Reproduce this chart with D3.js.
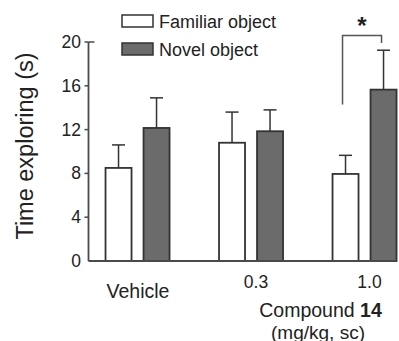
<!DOCTYPE html>
<html>
<head>
<meta charset="utf-8">
<script src="https://cdn.jsdelivr.net/npm/d3@7"></script>
<style>
  html, body { margin: 0; padding: 0; background: #fff; }
  svg { display: block; }
  text { font-family: "Liberation Sans", Arial, sans-serif; fill: #222; }
</style>
</head>
<body>
<svg id="chart" width="399" height="341"></svg>
<script>
// ---- data ----
const groups = ["Vehicle", "0.3", "1.0"];
const series = ["Familiar object", "Novel object"];
const familiarMean = [8.5, 10.8, 7.95];
const familiarErr  = [2.1, 2.8, 1.7];
const novelMean    = [12.15, 11.85, 15.65];
const novelErr     = [2.75, 1.95, 3.6];
const yTicks = [0, 4, 8, 12, 16, 20];
// significance bracket (values in y units) between the 1.0 bars
const sigGroup = "1.0";
const sigTop = 20.6, sigLeftEnd = 14.3, sigRightEnd = 19.9;

const rows = groups.map((g, i) => ({
  group: g,
  values: [
    { s: series[0], mean: familiarMean[i], err: familiarErr[i] },
    { s: series[1], mean: novelMean[i], err: novelErr[i] }
  ]
}));

// ---- layout ----
const svg = d3.select("#chart");
const axisX = 88.5;
const y = d3.scaleLinear().domain([0, 20]).range([261, 42]);

const step = 113.5;
const x0 = d3.scaleBand().domain(groups)
  .range([axisX, axisX + step * (3 - 0.436 + 2 * 0.15)])
  .paddingInner(0.436).paddingOuter(0.15);
const x1 = d3.scaleBand().domain(series)
  .range([0, x0.bandwidth()]).paddingInner(0.316).paddingOuter(0);

const color = d3.scaleOrdinal().domain(series).range(["#ffffff", "#6b6b6b"]);
const strokeCol = "#333";
const axisCol = "#4a4a4a";

// ---- bars ----
const g = svg.append("g");
const grp = g.selectAll("g.grp").data(rows).join("g")
  .attr("transform", d => `translate(${x0(d.group)},0)`);

// error bars (upward only)
grp.selectAll("g.err").data(d => d.values).join("g").each(function(d) {
  const cx = x1(d.s) + x1.bandwidth() / 2;
  const sel = d3.select(this);
  sel.append("line").attr("x1", cx).attr("x2", cx)
    .attr("y1", y(d.mean)).attr("y2", y(d.mean + d.err))
    .attr("stroke", strokeCol).attr("stroke-width", 1.5);
  sel.append("line").attr("x1", cx - 6.5).attr("x2", cx + 6.5)
    .attr("y1", y(d.mean + d.err)).attr("y2", y(d.mean + d.err))
    .attr("stroke", strokeCol).attr("stroke-width", 1.5);
});

grp.selectAll("rect").data(d => d.values).join("rect")
  .attr("x", d => x1(d.s))
  .attr("y", d => y(d.mean))
  .attr("width", x1.bandwidth())
  .attr("height", d => y(0) - y(d.mean))
  .attr("fill", d => color(d.s))
  .attr("stroke", strokeCol)
  .attr("stroke-width", 1.8);

// ---- axes ----
const xEnd = x0(groups[groups.length - 1]) + x0.bandwidth();
svg.append("line").attr("x1", axisX).attr("x2", xEnd)
  .attr("y1", y(0)).attr("y2", y(0))
  .attr("stroke", axisCol).attr("stroke-width", 1.8);
svg.append("line").attr("x1", axisX).attr("x2", axisX)
  .attr("y1", y(0)).attr("y2", y(20))
  .attr("stroke", axisCol).attr("stroke-width", 1.8);
// top stub
svg.append("line").attr("x1", axisX).attr("x2", axisX + 6)
  .attr("y1", y(20)).attr("y2", y(20))
  .attr("stroke", axisCol).attr("stroke-width", 1.5);

const yt = svg.append("g");
yt.selectAll("line").data(yTicks.filter(t => t > 0)).join("line")
  .attr("x1", axisX - 4).attr("x2", axisX)
  .attr("y1", d => y(d)).attr("y2", d => y(d))
  .attr("stroke", axisCol).attr("stroke-width", 1.5);
yt.selectAll("text").data(yTicks).join("text")
  .attr("x", 81).attr("y", d => y(d) + 6)
  .attr("text-anchor", "end")
  .attr("font-size", 17.5)
  .text(d => d);

// y title
svg.append("text")
  .attr("transform", "translate(33,146) rotate(-90)")
  .attr("text-anchor", "middle")
  .attr("font-size", 23.5)
  .text("Time exploring (s)");

// x labels
svg.append("text")
  .attr("x", x0("Vehicle") + x0.bandwidth() / 2 + 0.5)
  .attr("y", 298)
  .attr("text-anchor", "middle")
  .attr("font-size", 19.5)
  .text("Vehicle");
["0.3", "1.0"].forEach(k => {
  svg.append("text")
    .attr("x", x0(k) + x0.bandwidth() / 2 + 5)
    .attr("y", 288)
    .attr("text-anchor", "middle")
    .attr("font-size", 17.5)
    .text(k);
});
const comp = svg.append("text")
  .attr("x", 320.5).attr("y", 317)
  .attr("text-anchor", "middle")
  .attr("font-size", 19.5);
comp.append("tspan").text("Compound ");
comp.append("tspan").attr("font-weight", "bold").text("14");
svg.append("text")
  .attr("x", 318).attr("y", 338.5)
  .attr("text-anchor", "middle")
  .attr("font-size", 19)
  .text("(mg/kg, sc)");

// ---- legend ----
const leg = svg.append("g");
series.forEach((s, i) => {
  const ly = 15 + i * 28;
  leg.append("rect").attr("x", 122).attr("y", ly)
    .attr("width", 31).attr("height", 12)
    .attr("fill", color(s)).attr("stroke", strokeCol).attr("stroke-width", 1.5);
  leg.append("text").attr("x", 159).attr("y", ly + 13)
    .attr("font-size", 18).text(s);
});

// ---- significance bracket ----
const lx = x0(sigGroup) + x1(series[0]) + x1.bandwidth() / 2 - 3;
const rx = x0(sigGroup) + x1(series[1]) + x1.bandwidth() / 2 - 2;
svg.append("path")
  .attr("d", `M${lx},${y(sigLeftEnd)} V${y(sigTop)} H${rx} V${y(sigRightEnd)}`)
  .attr("fill", "none").attr("stroke", "#555").attr("stroke-width", 1.5);
svg.append("text")
  .attr("x", (lx + rx) / 2).attr("y", y(sigTop) - 1)
  .attr("text-anchor", "middle")
  .attr("font-size", 24).attr("font-weight", "bold")
  .text("*");
</script>
</body>
</html>
